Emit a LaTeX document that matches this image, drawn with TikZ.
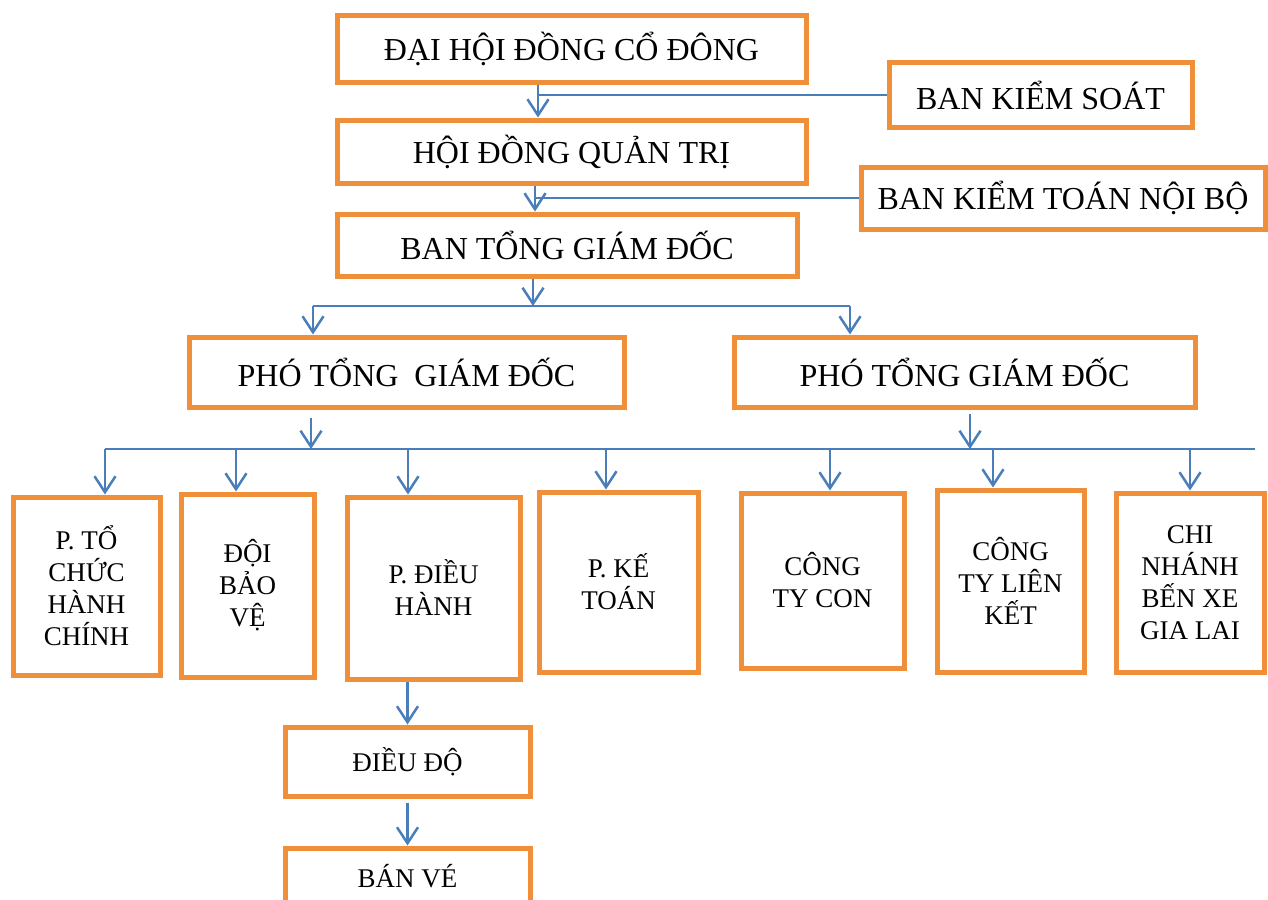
\documentclass[tikz,border=0pt]{standalone}
\usepackage{fontspec}
\setmainfont{Liberation Serif}
\usepackage{tikz}
\usepackage{xcolor}
\usetikzlibrary{arrows.meta}
\definecolor{boxorange}{RGB}{240,143,58}
\definecolor{lineblue}{RGB}{74,126,187}
\tikzset{
    org-box/.style = {draw=boxorange, fill=white, line width=5pt, rectangle, inner sep=0pt, align=center, font=\fontsize{32}{38}\selectfont},
    org-box-small/.style = {org-box, font=\fontsize{27}{32}\selectfont},
    org-box-low/.style = {org-box, font=\fontsize{27}{32}\selectfont},
    link-line/.style = {draw=lineblue, line width=2.5pt},
    link-arrow/.style = {link-line, -{Straight Barb[length=16pt, width=21pt, line width=2.5pt]}},
}

\begin{document}
\begin{tikzpicture}[x=1pt, y=-1pt]
\useasboundingbox (0,0) rectangle (1268,899);
% upper levels
\node [org-box, minimum width=469pt, minimum height=66pt] (dhdcd) at (571.5,49) {ĐẠI HỘI ĐỒNG CỔ ĐÔNG};
\node [org-box, minimum width=303pt, minimum height=64pt] (bks) at (1040.5,95) {BAN KIỂM SOÁT};
\node [org-box, minimum width=469pt, minimum height=63pt] (hdqt) at (571.5,151.5) {HỘI ĐỒNG QUẢN TRỊ};
\node [org-box, minimum width=404pt, minimum height=62pt] (bktnb) at (1063,198) {BAN KIỂM TOÁN NỘI BỘ};
\node [org-box, minimum width=460pt, minimum height=62pt] (btgd) at (567,245) {BAN TỔNG GIÁM ĐỐC};
\node [org-box, minimum width=435pt, minimum height=70pt] (ptgd1) at (406.5,372) {PHÓ TỔNG\ \ GIÁM ĐỐC};
\node [org-box, minimum width=461pt, minimum height=70pt] (ptgd2) at (964.5,372) {PHÓ TỔNG GIÁM ĐỐC};
% departments
\node [org-box-small, minimum width=147pt, minimum height=178pt] (ptc) at (86.5,586) {P. TỔ\\CHỨC\\HÀNH\\CHÍNH};
\node [org-box-small, minimum width=133pt, minimum height=183pt] (dbv) at (247.5,585.5) {ĐỘI\\BẢO\\VỆ};
\node [org-box-small, minimum width=173pt, minimum height=182pt] (pdh) at (433.5,588) {P. ĐIỀU\\HÀNH};
\node [org-box-small, minimum width=159pt, minimum height=180pt] (pkt) at (618.5,582) {P. KẾ\\TOÁN};
\node [org-box-small, minimum width=163pt, minimum height=175pt] (ctc) at (822.5,580.5) {CÔNG\\TY CON};
\node [org-box-small, minimum width=147pt, minimum height=182pt] (ctlk) at (1010.5,581) {CÔNG\\TY LIÊN\\KẾT};
\node [org-box-small, minimum width=148pt, minimum height=179pt] (cnbx) at (1190,582.5) {CHI\\NHÁNH\\BẾN XE\\GIA LAI};
\node [org-box-low, minimum width=245pt, minimum height=69pt] (dieudo) at (407.5,761.5) {ĐIỀU ĐỘ};
\node [org-box-low, minimum width=245pt, minimum height=56pt] (banve) at (407.5,876) {BÁN VÉ};

% connectors
\coordinate (a1) at (538,95);
\coordinate (a2) at (535,198);
\draw [link-arrow] (dhdcd.south -| a1) -- (hdqt.north -| a1);
\draw [link-line] (a1) -- (bks.west);
\draw [link-arrow] (hdqt.south -| a2) -- (btgd.north -| a2);
\draw [link-line] (a2) -- (bktnb.west);

\coordinate (b1) at (533,306);
\coordinate (b1l) at (313,306);
\coordinate (b1r) at (850,306);
\draw [link-arrow] (btgd.south -| b1) -- (b1);
\draw [link-line] (b1l) -- (b1r);
\draw [link-arrow] (b1l) -- (ptgd1.north -| b1l);
\draw [link-arrow] (b1r) -- (ptgd2.north -| b1r);

\coordinate (b2a) at (311,449);
\coordinate (b2b) at (970,449);
\coordinate (b2l) at (105,449);
\coordinate (b2r) at (1255,449);
\draw [link-line] (b2l) -- (b2r);
\draw [link-arrow, shorten <=8pt] (ptgd1.south -| b2a) -- (b2a);
\draw [link-arrow, shorten <=4pt] (ptgd2.south -| b2b) -- (b2b);
\foreach \n/\x in {ptc/105, dbv/236, pdh/408, pkt/606, ctc/830, ctlk/993, cnbx/1190} {
    \coordinate (d\n) at (\x,449);
    \draw [link-arrow] (d\n) -- (\n.north -| d\n);
}

\draw [link-arrow] (pdh.south -| dieudo.north) -- (dieudo.north);
\draw [link-arrow, shorten <=4pt] (dieudo.south) -- (banve.north);
\end{tikzpicture}
\end{document}
